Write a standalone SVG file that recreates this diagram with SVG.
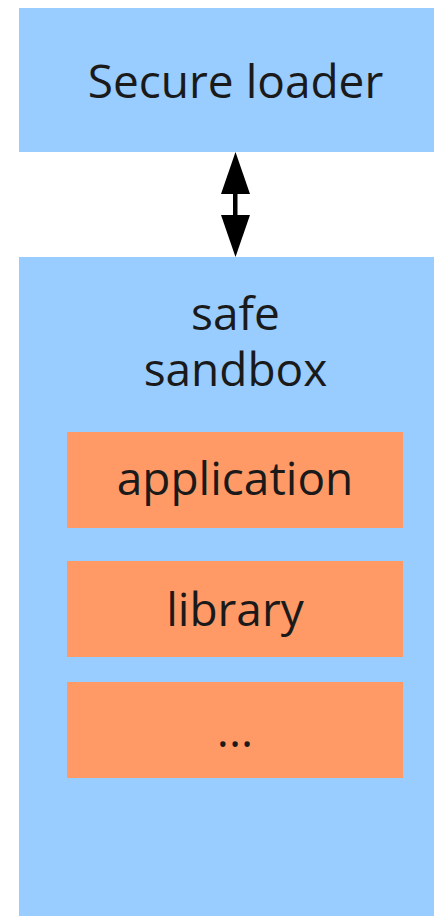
<svg xmlns="http://www.w3.org/2000/svg" width="434" height="916" viewBox="0 0 434 916">
<style>
.blue{fill:#99ccff}
.orange{fill:#ff9966}
text{font-family:"Open Sans","Noto Sans",sans-serif;font-size:46px;fill:#1a1a1a;text-anchor:middle}
</style>
<rect width="434" height="916" fill="#ffffff"/>
<g id="loader">
<rect class="blue" x="19" y="8" width="433" height="144"/>
<text x="235.5" y="97.5">Secure loader</text>
</g>
<g id="sandbox">
<rect class="blue" x="19" y="257" width="433" height="670"/>
<text x="235.5" y="330">safe</text>
<text x="235.5" y="386">sandbox</text>
</g>
<g id="application">
<rect class="orange" x="67" y="432" width="336" height="96"/>
<text x="235" y="495">application</text>
</g>
<g id="library">
<rect class="orange" x="67" y="561" width="336" height="96"/>
<text x="235" y="626">library</text>
</g>
<g id="more">
<rect class="orange" x="67" y="682" width="336" height="96"/>
<text x="235" y="747">...</text>
</g>
<g id="connectors">
<rect x="233" y="193" width="4.5" height="23" fill="#000"/>
<polygon points="235.5,152 250,194 221,194" fill="#000"/>
<polygon points="235.5,257 250,215 221,215" fill="#000"/>
</g>
</svg>
